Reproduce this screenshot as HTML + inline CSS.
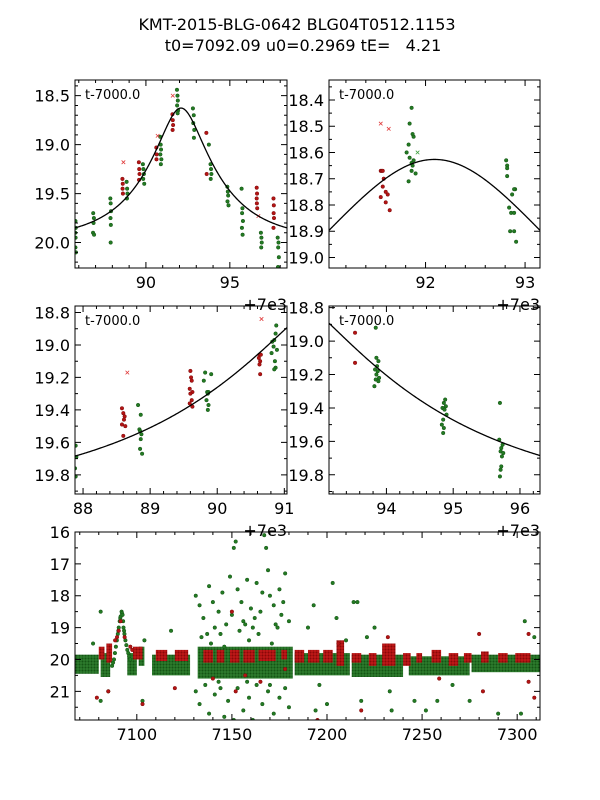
<!DOCTYPE html>
<html><head><meta charset="utf-8"><style>
body{margin:0;background:#fff;}
svg{display:block;font-family:"DejaVu Sans","Liberation Sans",sans-serif;}
</style></head><body>
<svg id="fig" width="600" height="800" viewBox="0 0 600 800">
<defs>
<pattern id="gdots" width="3" height="3" patternUnits="userSpaceOnUse"><rect width="3" height="3" fill="#2f7f2f"/><circle cx="1.5" cy="1.5" r="1.1" fill="#145514"/></pattern>
<pattern id="rdots" width="3" height="3" patternUnits="userSpaceOnUse"><rect width="3" height="3" fill="#c41a1a"/><circle cx="1.5" cy="1.5" r="1.1" fill="#8a0808"/></pattern>
</defs>
<text x="297" y="30" font-size="16" text-anchor="middle">KMT-2015-BLG-0642 BLG04T0512.1153</text>
<text x="303" y="51" font-size="16" text-anchor="middle" xml:space="preserve">t0=7092.09 u0=0.2969 tE=   4.21</text>
</svg>
<script>
// model parameters
const t0 = 92.09, u0 = 0.2969, tE = 4.21, mBase = 19.98;
// panel 1 data [t-7000, mag]
const p1Green = [[85.8,19.78],[85.82,19.85],[85.79,19.9],[85.81,19.95],[85.8,20.05],[85.83,20.1],[86.86,19.7],[86.9,19.75],[86.88,19.8],[86.85,19.9],[86.91,19.92],[87.88,19.55],[87.9,19.6],[87.92,19.68],[87.89,19.75],[87.91,19.82],[87.9,20.0],[88.85,19.38],[88.88,19.45],[88.9,19.5],[88.87,19.55],[89.82,19.2],[89.85,19.25],[89.88,19.3],[89.84,19.35],[89.9,19.4],[90.85,18.92],[90.88,19.0],[90.9,19.05],[90.86,19.1],[90.92,19.15],[90.89,19.2],[91.85,18.44],[91.88,18.5],[91.9,18.55],[91.86,18.6],[91.92,18.65],[91.89,18.68],[92.8,18.63],[92.85,18.7],[92.82,18.78],[92.88,18.85],[92.86,18.93],[93.75,19.0],[93.85,19.2],[93.88,19.25],[93.9,19.3],[93.86,19.35],[94.85,19.43],[94.88,19.48],[94.9,19.52],[94.86,19.58],[94.92,19.62],[95.7,19.45],[95.75,19.65],[95.73,19.7],[95.78,19.78],[95.72,19.85],[95.76,19.92],[96.85,19.9],[96.88,19.95],[96.9,20.0],[96.87,20.05],[97.85,19.95],[97.9,20.0],[97.88,20.05],[97.92,20.15],[97.87,20.25]];
const p1Red = [[88.6,19.35],[88.62,19.4],[88.61,19.45],[88.63,19.5],[89.58,19.18],[89.6,19.25],[89.62,19.3],[89.59,19.36],[90.62,19.03],[90.64,19.1],[90.63,19.15],[91.58,18.69],[91.6,18.75],[91.62,18.8],[91.59,18.85],[93.6,18.88],[93.62,19.3],[96.6,19.44],[96.62,19.5],[96.6,19.55],[96.61,19.6],[96.63,19.65],[97.6,19.55],[97.62,19.62],[97.61,19.7],[97.63,19.75],[97.6,19.85]];
const p1RedX = [[88.66,19.18],[90.7,18.91],[91.6,18.5],[96.7,19.73]];
// panel 2 data
const p2Green = [[91.86,18.43],[91.84,18.49],[91.87,18.53],[91.88,18.54],[91.83,18.57],[91.81,18.6],[91.84,18.62],[91.86,18.64],[91.88,18.63],[91.87,18.65],[91.86,18.67],[91.9,18.68],[91.83,18.71],[92.81,18.63],[92.82,18.65],[92.82,18.66],[92.82,18.69],[92.9,18.74],[92.89,18.74],[92.87,18.76],[92.84,18.81],[92.86,18.83],[92.89,18.83],[92.85,18.9],[92.89,18.9],[92.91,18.94]];
const p2Red = [[91.55,18.67],[91.56,18.67],[91.57,18.67],[91.58,18.7],[91.57,18.73],[91.6,18.75],[91.62,18.76],[91.55,18.77],[91.6,18.79],[91.64,18.82]];
const p2RedX = [[91.55,18.49],[91.63,18.51]];
const p2GreenX = [[91.92,18.6]];
// panel 3 data
const p3Green = [[87.89,19.62],[87.9,19.69],[87.88,19.76],[87.89,19.81],[88.82,19.37],[88.86,19.43],[88.84,19.52],[88.85,19.53],[88.87,19.55],[88.86,19.58],[88.85,19.64],[88.88,19.67],[89.82,19.17],[89.91,19.18],[89.8,19.22],[89.85,19.29],[89.87,19.29],[89.86,19.3],[89.84,19.34],[89.87,19.37],[89.86,19.4],[90.88,18.88],[90.87,18.93],[90.85,18.97],[90.82,18.98],[90.84,19.01],[90.89,19.03],[90.81,19.05],[90.86,19.1],[90.87,19.14],[90.85,19.15]];
const p3Red = [[88.58,19.39],[88.6,19.42],[88.62,19.44],[88.61,19.46],[88.58,19.49],[88.63,19.5],[88.6,19.56],[89.6,19.16],[89.61,19.2],[89.62,19.22],[89.59,19.27],[89.63,19.29],[89.6,19.3],[89.62,19.34],[89.59,19.36],[89.63,19.38],[90.63,19.06],[90.65,19.06],[90.62,19.08],[90.64,19.1],[90.63,19.12],[90.64,19.18]];
const p3RedX = [[88.66,19.17],[90.66,18.84]];
// panel 4 data
const p4Green = [[93.84,18.92],[93.85,19.1],[93.88,19.12],[93.86,19.15],[93.83,19.17],[93.87,19.18],[93.85,19.2],[93.89,19.22],[93.84,19.23],[93.88,19.24],[93.82,19.27],[94.88,19.35],[94.86,19.37],[94.89,19.39],[94.84,19.4],[94.87,19.41],[94.9,19.44],[94.85,19.47],[94.83,19.5],[94.86,19.52],[94.85,19.55],[95.7,19.37],[95.69,19.59],[95.74,19.62],[95.72,19.64],[95.71,19.66],[95.75,19.67],[95.73,19.69],[95.72,19.75],[95.71,19.77],[95.7,19.81]];
const p4Red = [[93.53,18.95],[93.53,19.13]];
// panel 5 data: nightly bands [tStart, tEnd, magTop, magBottom]
const p5GreenBands = [[7065,7080,19.85,20.45],[7081,7086,19.8,20.55],[7095,7100,19.8,20.5],[7101,7104,19.6,20.2],[7108,7128,19.85,20.5],[7132,7182,19.6,20.6],[7183,7212,19.8,20.5],[7213,7240,19.85,20.55],[7243,7275,19.9,20.5],[7276,7312,19.85,20.4]];
const p5RedBands = [[7080,7083,19.6,20.0],[7084,7087,19.5,20.1],[7098,7103,19.6,20.0],[7110,7116,19.7,20.05],[7120,7127,19.7,20.05],[7135,7140,19.7,20.1],[7142,7146,19.7,20.1],[7149,7154,19.7,20.1],[7156,7162,19.7,20.1],[7164,7173,19.7,20.05],[7176,7179,19.7,20.0],[7183,7188,19.7,20.1],[7190,7196,19.7,20.1],[7198,7203,19.7,20.1],[7205,7209,19.4,20.2],[7213,7218,19.8,20.1],[7222,7226,19.8,20.2],[7229,7236,19.5,20.2],[7240,7244,19.8,20.2],[7247,7250,19.8,20.1],[7255,7260,19.7,20.1],[7264,7269,19.8,20.2],[7272,7276,19.8,20.1],[7281,7285,19.75,20.1],[7290,7295,19.8,20.1],[7299,7307,19.8,20.1]];
const p5GreenPeak = [[7087,20.2],[7087.5,20.1],[7088,20.0],[7088.5,19.8],[7089,19.6],[7089.5,19.4],[7090,19.2],[7090.3,19.1],[7090.5,19.0],[7091,18.8],[7091.3,18.7],[7091.5,18.65],[7092,18.5],[7092.2,18.55],[7092.5,18.6],[7092.8,18.8],[7093,19.0],[7093.3,19.1],[7093.5,19.2],[7094,19.4],[7094.5,19.55],[7095,19.7],[7095.5,19.8],[7096,19.9],[7096.5,20.0]];
const p5RedPeak = [[7088.6,19.4],[7089.6,19.3],[7090.5,19.1],[7091.5,18.8],[7093.6,19.3],[7096.6,19.6],[7097.6,19.7]];
const p5GreenOut = [[7131,18.0],[7133,18.3],[7135,18.7],[7137,19.2],[7138,17.7],[7140,18.2],[7141,19.0],[7143,18.5],[7145,17.9],[7147,18.9],[7149,17.4],[7150,18.6],[7151,16.5],[7152,16.3],[7153,17.8],[7154,19.1],[7155,18.2],[7157,18.9],[7158,17.5],[7160,18.4],[7161,19.0],[7162,18.7],[7163,17.6],[7165,18.5],[7166,17.9],[7167,16.1],[7168,16.5],[7169,17.2],[7170,18.0],[7172,18.3],[7174,19.0],[7175,17.8],[7176,18.6],[7177,18.2],[7178,17.3],[7180,18.8],[7139,19.5],[7146,19.6],[7159,19.4],[7171,19.5],[7134,19.3],[7144,19.2],[7156,18.8],[7164,19.2],[7173,18.9],[7131,21.0],[7133,21.4],[7136,20.8],[7138,21.7],[7141,21.1],[7144,20.9],[7146,21.8],[7148,21.3],[7151,21.9],[7153,20.9],[7156,21.6],[7159,21.2],[7161,21.9],[7163,20.8],[7166,21.4],[7169,21.0],[7172,21.7],[7175,21.2],[7178,20.9],[7180,21.5],[7143,20.7],[7158,20.7],[7170,20.8],[7077,19.5],[7081,21.3],[7085,21.0],[7103,21.3],[7104,19.4],[7118,19.1],[7190,19.0],[7193,18.3],[7200,21.4],[7203,17.6],[7205,18.7],[7210,19.4],[7214,18.2],[7216,18.2],[7218,21.3],[7221,19.3],[7225,19.0],[7233,21.0],[7234,21.6],[7246,21.3],[7252,21.6],[7258,21.3],[7266,20.8],[7275,21.3],[7290,21.7],[7304,18.8],[7309,19.3],[7302,21.7],[7196,20.8],[7194,21.6],[7081,18.5]];
const p5RedOut = [[7079,21.2],[7085,21.0],[7103,21.4],[7120,20.9],[7150,18.5],[7152,21.0],[7157,20.5],[7178,20.3],[7206,19.5],[7232,19.3],[7259,20.6],[7280,19.2],[7282,21.0],[7306,19.2],[7309,21.2],[7306,20.7],[7195,21.9],[7218,21.6],[7140,20.6],[7165,20.7]];

const NS = 'http://www.w3.org/2000/svg';
const svg = document.getElementById('fig');
const GREEN = '#237a23', GREEN_E = '#145214', RED = '#b31414', RED_E = '#7a0a0a';
function mk(tag, attrs, parent) {
  const e = document.createElementNS(NS, tag);
  for (const k in attrs) e.setAttribute(k, attrs[k]);
  (parent || svg).appendChild(e);
  return e;
}
function modelMag(t) {
  const tau = (t - t0) / tE; const u2 = tau * tau + u0 * u0; const u = Math.sqrt(u2);
  const A = (u2 + 2) / (u * Math.sqrt(u2 + 4));
  return mBase - 2.5 * Math.log10(A);
}
function fmt(v, d) { return v.toFixed(d); }

function panel(cfg) {
  const g = mk('g', {});
  
  
  const sx = t => cfg.x + (t - cfg.tmin) / (cfg.tmax - cfg.tmin) * cfg.w;
  const sy = m => cfg.y + (m - cfg.mmin) / (cfg.mmax - cfg.mmin) * cfg.h;
  const cid = 'clip-' + cfg.name;
  const cp = mk('clipPath', { id: cid }, g);
  mk('rect', { x: cfg.x, y: cfg.y, width: cfg.w, height: cfg.h }, cp);
  const plot = mk('g', { 'clip-path': 'url(#' + cid + ')' }, g);
  
  
  (cfg.gBands || []).forEach(b => {
    const r = mk('rect', { x: sx(b[0]), y: sy(b[2]), width: sx(b[1]) - sx(b[0]), height: sy(b[3]) - sy(b[2]), fill: 'url(#gdots)' }, plot);
    
    
  });
  (cfg.rBands || []).forEach(b => {
    const r = mk('rect', { x: sx(b[0]), y: sy(b[2]), width: sx(b[1]) - sx(b[0]), height: sy(b[3]) - sy(b[2]), fill: 'url(#rdots)' }, plot);
    
    
  });
  const dots = (arr, fill, stroke, nm) => (arr || []).forEach(p => {
    const c = mk('circle', { cx: sx(p[0]), cy: sy(p[1]), r: 1.8, fill: fill, stroke: stroke, 'stroke-width': 0.5 }, plot);
    
    
  });
  const crosses = (arr, col, nm) => (arr || []).forEach(p => {
    const x = sx(p[0]), y = sy(p[1]);
    const c = mk('path', { d: `M${x-1.8},${y-1.8}L${x+1.8},${y+1.8}M${x-1.8},${y+1.8}L${x+1.8},${y-1.8}`, stroke: col, 'stroke-width': 0.8 }, plot);
    
    
  });
  dots(cfg.green, GREEN, GREEN_E, 'green-point');
  dots(cfg.red, RED, RED_E, 'red-point');
  crosses(cfg.redX, '#e03a3a', 'red-rejected-point');
  crosses(cfg.greenX, '#3fa03f', 'green-rejected-point');
  if (cfg.model) {
    let d = '';
    for (let i = 0; i <= 300; i++) {
      const t = cfg.tmin + (cfg.tmax - cfg.tmin) * i / 300;
      d += (i ? 'L' : 'M') + sx(t).toFixed(2) + ',' + sy(modelMag(t)).toFixed(2);
    }
    const pth = mk('path', { d: d, fill: 'none', stroke: '#000', 'stroke-width': 1.3 }, plot);
    
    
  }
  const fr = mk('rect', { x: cfg.x, y: cfg.y, width: cfg.w, height: cfg.h, fill: 'none', stroke: '#000', 'stroke-width': 1 }, g);
  
  
  let td = '';
  const eps = 1e-6;
  const xt = (step, len) => {
    for (let v = Math.ceil(cfg.tmin / step - eps) * step; v <= cfg.tmax + eps; v += step) {
      const x = sx(v);
      td += `M${x},${cfg.y + cfg.h}v${-len}M${x},${cfg.y}v${len}`;
    }
  };
  const yt = (step, len) => {
    for (let v = Math.ceil(cfg.mmin / step - eps) * step; v <= cfg.mmax + eps; v += step) {
      const y = sy(v);
      td += `M${cfg.x},${y}h${len}M${cfg.x + cfg.w},${y}h${-len}`;
    }
  };
  xt(cfg.xMinor, 3); xt(cfg.xMajor, 6); yt(cfg.yMinor, 3); yt(cfg.yMajor, 6);
  mk('path', { d: td, stroke: '#000', 'stroke-width': 1, fill: 'none' }, g);
  for (let v = Math.ceil(cfg.tmin / cfg.xMajor - eps) * cfg.xMajor; v <= cfg.tmax + eps; v += cfg.xMajor) {
    const tx = mk('text', { x: sx(v), y: cfg.y + cfg.h + 20, 'font-size': 16, 'text-anchor': 'middle' }, g);
    tx.textContent = fmt(v, 0);
    
    
  }
  for (let v = Math.ceil(cfg.mmin / cfg.yMajor - eps) * cfg.yMajor; v <= cfg.mmax + eps; v += cfg.yMajor) {
    const tx = mk('text', { x: cfg.x - 5, y: sy(v) + 6, 'font-size': 16, 'text-anchor': 'end' }, g);
    tx.textContent = fmt(v, cfg.yDec);
    
    
  }
  if (cfg.offset) {
    const o = mk('text', { x: cfg.x + cfg.w, y: cfg.y + cfg.h + 42, 'font-size': 16, 'text-anchor': 'end' }, g);
    o.textContent = '+7e3';
    
    
  }
  if (cfg.note) {
    const n = mk('text', { x: cfg.x + 10, y: cfg.y + 19, 'font-size': 13 }, g);
    n.textContent = 't-7000.0';
    
    
  }
}

panel({ name: 'panel-full-event', x: 75, y: 80, w: 212, h: 188, tmin: 85.775, tmax: 98.405, mmin: 18.34, mmax: 20.26, xMajor: 5, xMinor: 1, yMajor: 0.5, yMinor: 0.1, yDec: 1, green: p1Green, red: p1Red, redX: p1RedX, model: true, offset: true, note: true });
panel({ name: 'panel-peak', x: 329, y: 80, w: 211, h: 188, tmin: 91.03, tmax: 93.15, mmin: 18.324, mmax: 19.04, xMajor: 1, xMinor: 0.2, yMajor: 0.1, yMinor: 0.05, yDec: 1, green: p2Green, red: p2Red, redX: p2RedX, greenX: p2GreenX, model: true, offset: true, note: true });
panel({ name: 'panel-rise', x: 75, y: 306, w: 212, h: 188, tmin: 87.88, tmax: 91.04, mmin: 18.76, mmax: 19.918, xMajor: 1, xMinor: 0.2, yMajor: 0.2, yMinor: 0.1, yDec: 1, green: p3Green, red: p3Red, redX: p3RedX, model: true, offset: true, note: true });
panel({ name: 'panel-fall', x: 329, y: 306, w: 211, h: 188, tmin: 93.14, tmax: 96.3, mmin: 18.79, mmax: 19.915, xMajor: 1, xMinor: 0.2, yMajor: 0.2, yMinor: 0.1, yDec: 1, green: p4Green, red: p4Red, model: true, offset: true, note: true });
panel({ name: 'panel-season', x: 75, y: 532, w: 465, h: 188, tmin: 7067.5, tmax: 7312, mmin: 16, mmax: 21.9, xMajor: 50, xMinor: 10, yMajor: 1, yMinor: 0.5, yDec: 0, gBands: p5GreenBands, rBands: p5RedBands, green: p5GreenPeak.concat(p5GreenOut), red: p5RedPeak.concat(p5RedOut), model: false, offset: false, note: false });
</script>
</body></html>
